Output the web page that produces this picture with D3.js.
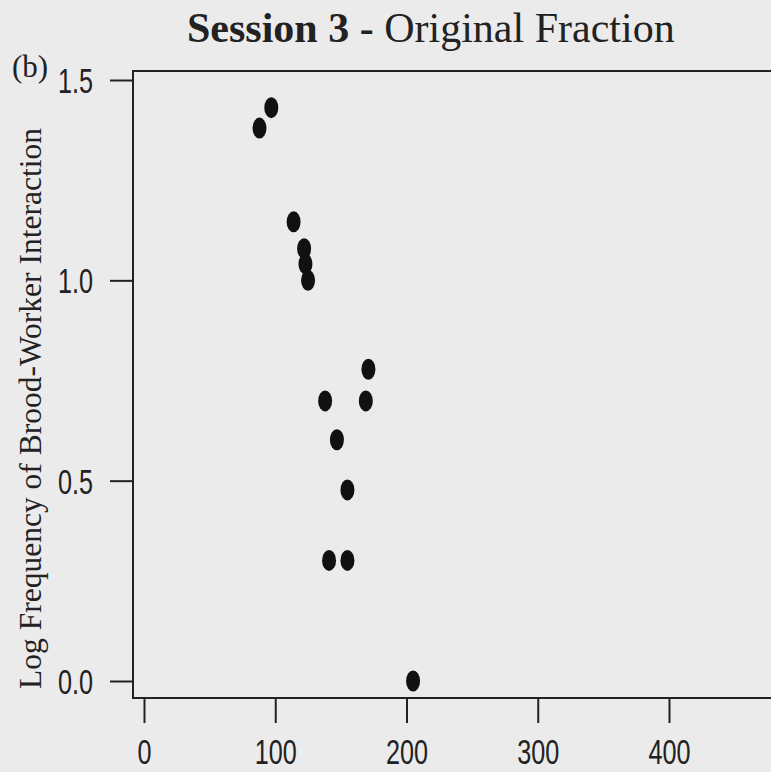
<!DOCTYPE html>
<html>
<head>
<meta charset="utf-8">
<script src="https://cdn.jsdelivr.net/npm/d3@7"></script>
<style>
  html, body { margin: 0; padding: 0; background: #ebebeb; }
  svg { display: block; }
</style>
</head>
<body>
<svg id="chart" width="771" height="772"></svg>
<script>
// Data: x = value, count = brood-worker interaction frequency (plotted as log10)
const xValues     = [88, 97, 114, 122, 123, 125, 138, 141, 147, 155, 155, 169, 171, 205];
const logFreq     = [1.380, 1.431, 1.146, 1.079, 1.041, 1.000, 0.699, 0.301, 0.602, 0.477, 0.301, 0.699, 0.778, 0.000];
const xTicks      = [0, 100, 200, 300, 400];
const yTicks      = [0.0, 0.5, 1.0, 1.5];
const yTickLabels = ["0.0", "0.5", "1.0", "1.5"];
const titleBold   = "Session 3 -";
const titleRest   = " Original Fraction";
const yLabel      = "Log Frequency of Brood-Worker Interaction";
const panelLabel  = "(b)";

const svg = d3.select("#chart");
const W = 771, H = 772;
const ink = "#222";

const box = { left: 133, top: 71, right: 800, bottom: 698 };

const x = d3.scaleLinear().domain([0, 400]).range([144, 669]);
const y = d3.scaleLinear().domain([0, 1.5]).range([681, 80]);

svg.append("rect").attr("width", W).attr("height", H).attr("fill", "#ebebeb");

// plot frame
svg.append("rect")
  .attr("x", box.left).attr("y", box.top)
  .attr("width", box.right - box.left).attr("height", box.bottom - box.top)
  .attr("fill", "none").attr("stroke", ink).attr("stroke-width", 2);

// Y axis
const yAxis = d3.axisLeft(y).tickValues(yTicks)
  .tickFormat((d, i) => yTickLabels[i]).tickSize(23).tickPadding(17);
const gy = svg.append("g").attr("transform", `translate(${box.left},0)`).call(yAxis);
gy.select(".domain").remove();
gy.selectAll(".tick line").attr("stroke", ink).attr("stroke-width", 2);
gy.selectAll(".tick text")
  .attr("fill", ink)
  .style("font-family", "'Liberation Sans', Arial, sans-serif")
  .style("font-size", "35px")
  .attr("dy", "0.36em")
  .each(function() {
    const t = d3.select(this);
    const xx = +t.attr("x");
    t.attr("x", null).attr("transform", `translate(${xx},0) scale(0.72,1)`);
  });

// X axis
const xAxis = d3.axisBottom(x).tickValues(xTicks).tickFormat(d3.format("d"))
  .tickSize(25).tickPadding(16);
const gx = svg.append("g").attr("transform", `translate(0,${box.bottom})`).call(xAxis);
gx.select(".domain").remove();
gx.selectAll(".tick line").attr("stroke", ink).attr("stroke-width", 2);
gx.selectAll(".tick text")
  .attr("fill", ink)
  .style("font-family", "'Liberation Sans', Arial, sans-serif")
  .style("font-size", "35px")
  .attr("dy", "0.71em")
  .each(function() {
    const t = d3.select(this);
    const yy = +t.attr("y");
    t.attr("y", null).attr("transform", `translate(0,${yy}) scale(0.72,1)`);
  });

// points
svg.append("g").selectAll("ellipse")
  .data(xValues.map((v, i) => ({ x: v, y: logFreq[i] })))
  .join("ellipse")
  .attr("cx", d => x(d.x)).attr("cy", d => y(d.y))
  .attr("rx", 7).attr("ry", 10.5)
  .attr("fill", "#111");

// title
const title = svg.append("text")
  .attr("x", 187).attr("y", 42)
  .attr("fill", ink)
  .style("font-family", "'Liberation Serif', 'Times New Roman', serif")
  .style("font-size", "42px");
title.append("tspan").style("font-weight", "bold").text(titleBold);
title.append("tspan").text(titleRest);

// y label
svg.append("text")
  .attr("transform", `translate(41,${(127 + 690) / 2}) rotate(-90)`)
  .attr("text-anchor", "middle")
  .attr("fill", ink)
  .style("font-family", "'Liberation Serif', 'Times New Roman', serif")
  .style("font-size", "31.5px")
  .text(yLabel);

// panel label
svg.append("text")
  .attr("x", 12).attr("y", 77)
  .attr("fill", ink)
  .style("font-family", "'Liberation Serif', 'Times New Roman', serif")
  .style("font-size", "31px")
  .text(panelLabel);
</script>
</body>
</html>
